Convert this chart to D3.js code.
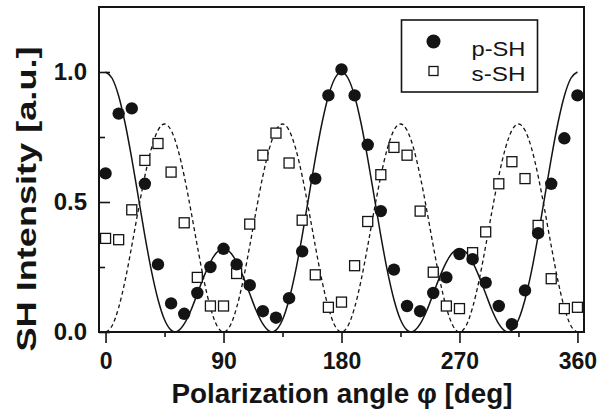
<!DOCTYPE html>
<html>
<head>
<meta charset="utf-8">
<script src="https://cdn.jsdelivr.net/npm/d3@7"></script>
<style>
  html, body { margin: 0; padding: 0; background: #fff; }
  svg { display: block; font-family: "Liberation Sans", Arial, Helvetica, sans-serif; }
</style>
</head>
<body>
<svg id="chart" width="598" height="412"></svg>
<script>
// Measured polarization angles (deg)
const angles = [0,10,20,30,40,50,60,70,80,90,100,110,120,130,140,150,160,170,180,
                190,200,210,220,230,240,250,260,270,280,290,300,310,320,330,340,350,360];

// p-polarized SH intensity (a.u.)
const pSH = [0.61,0.84,0.86,0.57,0.26,0.11,0.07,0.15,0.25,0.32,0.26,0.18,0.08,0.055,0.13,0.31,0.59,0.91,1.01,
             0.91,0.72,0.465,0.24,0.10,0.08,0.15,0.21,0.30,0.28,0.19,0.10,0.03,0.16,0.38,0.57,0.745,0.91];

// s-polarized SH intensity (a.u.)
const sSH = [0.36,0.355,0.47,0.66,0.725,0.615,0.42,0.21,0.10,0.10,0.225,0.415,0.68,0.765,0.65,0.43,0.22,0.095,0.115,
             0.255,0.425,0.605,0.71,0.68,0.465,0.23,0.10,0.09,0.305,0.385,0.57,0.655,0.59,0.41,0.205,0.09,0.095];

// Fitted curve for p-SH (solid line)
const pFitAngles = [0,5,10,15,20,25,30,35,40,45,50,53,55,60,65,70,75,80,85,90,
                    95,100,105,110,115,120,125,127,130,135,140,145,150,155,160,165,170,175,180,
                    185,190,195,200,205,210,215,220,225,230,233,235,240,245,250,255,260,265,270,
                    275,280,285,290,295,300,305,307,310,315,320,325,330,335,340,345,350,355,360];
const pFitValues = [1.000,0.976,0.908,0.801,0.667,0.519,0.370,0.235,0.125,0.047,0.007,0.000,0.003,0.031,0.082,0.147,0.213,0.269,0.307,0.320,
                    0.307,0.269,0.213,0.147,0.082,0.031,0.003,0.000,0.007,0.047,0.125,0.235,0.370,0.519,0.667,0.801,0.908,0.976,1.000,
                    0.976,0.908,0.801,0.667,0.519,0.370,0.235,0.125,0.047,0.007,0.000,0.003,0.031,0.082,0.147,0.213,0.269,0.307,0.320,
                    0.307,0.269,0.213,0.147,0.082,0.031,0.003,0.000,0.007,0.047,0.125,0.235,0.370,0.519,0.667,0.801,0.908,0.976,1.000];

// Fitted curve for s-SH (dashed line), sampled every 5 deg
const sFitAngles = d3.range(0, 361, 5);
const sFitValues = [0.000,0.024,0.094,0.200,0.331,0.470,0.600,0.706,0.776,0.800,0.776,0.706,0.600,0.470,0.331,0.200,0.094,0.024,
                    0.000,0.024,0.094,0.200,0.331,0.470,0.600,0.706,0.776,0.800,0.776,0.706,0.600,0.470,0.331,0.200,0.094,0.024,
                    0.000,0.024,0.094,0.200,0.331,0.470,0.600,0.706,0.776,0.800,0.776,0.706,0.600,0.470,0.331,0.200,0.094,0.024,
                    0.000,0.024,0.094,0.200,0.331,0.470,0.600,0.706,0.776,0.800,0.776,0.706,0.600,0.470,0.331,0.200,0.094,0.024,
                    0.000];

const xMajorTicks = [0, 90, 180, 270, 360];
const xMinorTicks = [45, 135, 225, 315];
const yMajorTicks = [0.0, 0.5, 1.0];
const yMinorTicks = [0.25, 0.75];
const seriesNames = ["p-SH", "s-SH"];

const ink = "#141414";
const svg = d3.select("#chart");

const frame = { left: 99, right: 584, top: 7, bottom: 332 };
const x = d3.scaleLinear().domain([-5, 365]).range([frame.left, frame.right]);
const y = d3.scaleLinear().domain([0, 1.25]).range([frame.bottom, frame.top]);

// Fit curves
const line = d3.line().x(d => x(d[0])).y(d => y(d[1])).curve(d3.curveMonotoneX);

svg.append("path")
  .datum(sFitAngles.map((a, i) => [a, sFitValues[i]]))
  .attr("d", line)
  .attr("fill", "none")
  .attr("stroke", ink)
  .attr("stroke-width", 1.3)
  .attr("stroke-dasharray", "4,3");

svg.append("path")
  .datum(pFitAngles.map((a, i) => [a, pFitValues[i]]))
  .attr("d", line)
  .attr("fill", "none")
  .attr("stroke", ink)
  .attr("stroke-width", 1.5);

// Axes: x ticks point outward, y ticks point inward
const xAxis = svg.append("g")
  .attr("transform", `translate(0,${frame.bottom})`)
  .call(d3.axisBottom(x).tickValues(xMajorTicks).tickSize(11).tickPadding(10).tickFormat(d3.format("d")));
svg.append("g")
  .attr("transform", `translate(0,${frame.bottom})`)
  .call(d3.axisBottom(x).tickValues(xMinorTicks).tickSize(5).tickFormat(""));

const yAxis = svg.append("g")
  .attr("transform", `translate(${frame.left},0)`)
  .call(d3.axisLeft(y).tickValues(yMajorTicks).tickSize(-11).tickPadding(12).tickFormat(d3.format(".1f")));
svg.append("g")
  .attr("transform", `translate(${frame.left},0)`)
  .call(d3.axisLeft(y).tickValues(yMinorTicks).tickSize(-6).tickFormat(""));

svg.selectAll(".domain").remove();
svg.selectAll(".tick line").attr("stroke", ink).attr("stroke-width", 1.6);
xAxis.selectAll(".tick text")
  .attr("fill", ink).attr("font-size", 23).attr("font-weight", "bold")
  .attr("font-family", "Liberation Sans, Arial, sans-serif");
yAxis.selectAll(".tick text")
  .attr("fill", ink).attr("font-size", 24).attr("font-weight", "bold")
  .attr("font-family", "Liberation Sans, Arial, sans-serif");

// Plot frame
svg.append("rect")
  .attr("x", frame.left).attr("y", frame.top)
  .attr("width", frame.right - frame.left).attr("height", frame.bottom - frame.top)
  .attr("fill", "none").attr("stroke", ink).attr("stroke-width", 2);

// Data points
const sq = 10;
svg.append("g").selectAll("rect")
  .data(angles.map((a, i) => [a, sSH[i]]))
  .join("rect")
  .attr("x", d => x(d[0]) - sq / 2)
  .attr("y", d => y(d[1]) - sq / 2)
  .attr("width", sq).attr("height", sq)
  .attr("fill", "#fff").attr("stroke", ink).attr("stroke-width", 1.3);

svg.append("g").selectAll("circle")
  .data(angles.map((a, i) => [a, pSH[i]]))
  .join("circle")
  .attr("cx", d => x(d[0]))
  .attr("cy", d => y(d[1]))
  .attr("r", 6.2)
  .attr("fill", ink);

// Axis titles
svg.append("text")
  .attr("x", 342).attr("y", 403)
  .attr("text-anchor", "middle")
  .attr("font-size", 27).attr("font-weight", "bold").attr("fill", ink)
  .attr("textLength", 341).attr("lengthAdjust", "spacingAndGlyphs")
  .text("Polarization angle φ [deg]");

svg.append("text")
  .attr("transform", "translate(36,199) rotate(-90)")
  .attr("text-anchor", "middle")
  .attr("font-size", 28).attr("font-weight", "bold").attr("fill", ink)
  .attr("textLength", 305).attr("lengthAdjust", "spacingAndGlyphs")
  .text("SH Intensity [a.u.]");

// Legend
const legend = svg.append("g");
legend.append("rect")
  .attr("x", 401.5).attr("y", 20).attr("width", 136).attr("height", 72)
  .attr("fill", "#fff").attr("stroke", ink).attr("stroke-width", 1.6);
legend.append("circle").attr("cx", 433.5).attr("cy", 41.5).attr("r", 7).attr("fill", ink);
legend.append("rect").attr("x", 429).attr("y", 66.5).attr("width", 9).attr("height", 9)
  .attr("fill", "#fff").attr("stroke", ink).attr("stroke-width", 1.3);
legend.selectAll("text.lbl")
  .data(seriesNames)
  .join("text")
  .attr("class", "lbl")
  .attr("x", 471.5)
  .attr("y", (d, i) => 55.5 + i * 25)
  .attr("font-size", 21).attr("fill", ink)
  .attr("textLength", 54).attr("lengthAdjust", "spacingAndGlyphs")
  .text(d => d);
</script>
</body>
</html>
